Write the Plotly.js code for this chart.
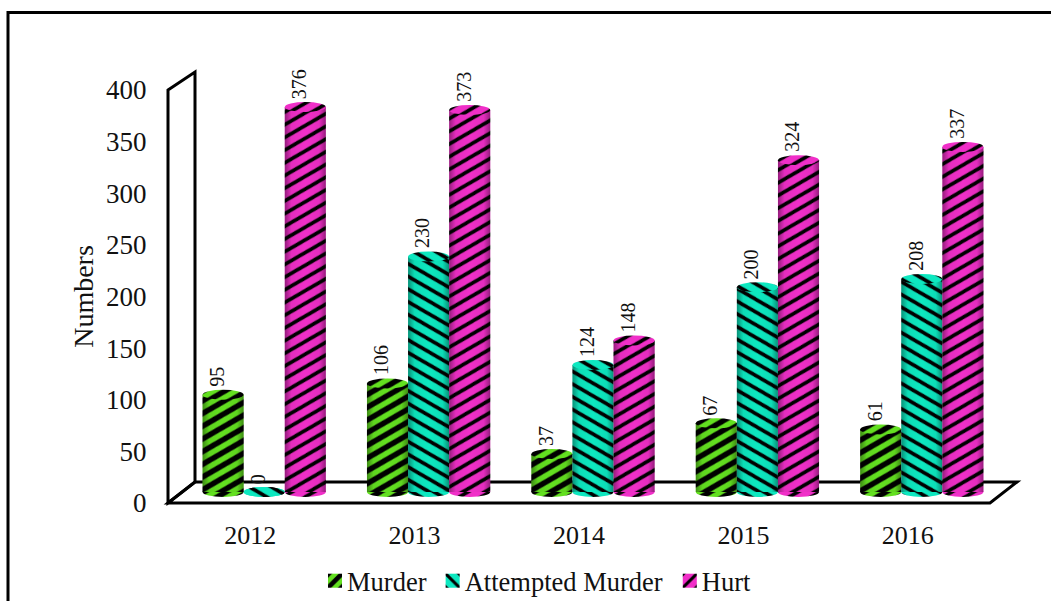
<!DOCTYPE html>
<html><head><meta charset="utf-8">
<script src="https://cdn.plot.ly/plotly-3.0.1.min.js"></script>
<style>html,body{margin:0;padding:0;background:#fff;overflow:hidden}</style>
</head><body><div id="chart" style="width:1051px;height:601px"></div>
<script>
const years = ['2012','2013','2014','2015','2016'];
const murder = [95,106,37,67,61];
const attempted = [0,230,124,200,208];
const hurt = [376,373,148,324,337];
const seriesNames = ['Murder','Attempted Murder','Hurt'];
const seriesColors = ['#63e020','#0de8c0','#f02fc8'];
const seriesStripes = ['/','\\','/'];
const stripeSolidity = [0.5,0.33,0.33];
const stripeAngle = [15,-15,15];
const seriesValues = [murder,attempted,hurt];
const yTicks = [0,50,100,150,200,250,300,350,400];
const legendShift = [-2,-9,-15];

const W=1051,H=601;
const fx=p=>p/W, fy=p=>1-p/H;
const FONT='"Liberation Serif","Times New Roman",serif';

const traces = seriesNames.map((n,k)=>({
  type:'bar', name:n, x:years, y:seriesValues[k], xaxis:'x2', yaxis:'y2',
  hoverinfo:'x+y+name', cliponaxis:false,
  marker:{color:seriesColors[k],line:{width:0},
    pattern:{shape:seriesStripes[k],fgcolor:'#000',fgopacity:1,bgcolor:seriesColors[k],size:11,solidity:stripeSolidity[k],fillmode:'overlay'}}
}));
traces.push({type:'scatter',mode:'none',x:[],y:[],xaxis:'x',yaxis:'y',showlegend:false,hoverinfo:'skip'});

const shapes=[], capMap=[], shadeIdx=[], annotations=[];
const off=[-0.25,0,0.25];
seriesNames.forEach((n,k)=>{
  seriesValues[k].forEach((v,i)=>{
    const xa=i+off[k];
    capMap[shapes.length]=k;
    shapes.push({type:'circle',layer:'below',xref:'x2',yref:'y2',xsizemode:'pixel',ysizemode:'pixel',
      xanchor:xa,yanchor:0,x0:-20.5,x1:20.5,y0:-5,y1:5,fillcolor:seriesColors[k],line:{width:0}});
    if(v>0){
      shadeIdx.push(shapes.length);
      shapes.push({type:'rect',layer:'above',xref:'x2',yref:'y2',xsizemode:'pixel',
        xanchor:xa,x0:-20.5,x1:20.5,y0:0,y1:v,fillcolor:'rgba(0,0,0,0.1)',line:{width:0}});
    }
    capMap[shapes.length]=k;
    shapes.push({type:'circle',layer:'above',xref:'x2',yref:'y2',xsizemode:'pixel',ysizemode:'pixel',
      xanchor:xa,yanchor:v,x0:-20.5,x1:20.5,y0:-5,y1:5,fillcolor:seriesColors[k],line:{width:0}});
    annotations.push({xref:'x2',yref:'y2',x:xa,y:v,yshift:7,xshift:-6,text:String(v),textangle:-90,showarrow:false,
      yanchor:'bottom',xanchor:'center',borderpad:0,font:{family:FONT,size:20,color:'#111'}});
  });
});

const P=(pts)=>'M'+pts.map(p=>fx(p[0])+','+fy(p[1])).join('L')+'Z';
const frame={xref:'paper',yref:'paper',layer:'below',line:{color:'#000',width:3},fillcolor:'rgba(0,0,0,0)',type:'path'};
shapes.push(Object.assign({},frame,{path:P([[168,90],[195,72],[195,482],[168,503]])}));
shapes.push(Object.assign({},frame,{path:P([[168,503],[195,482],[1017,482],[990,503]])}));
shapes.push({type:'rect',xref:'paper',yref:'paper',x0:fx(8),x1:fx(1070),y0:fy(12.5),y1:fy(640),layer:'below',line:{color:'#000',width:3},fillcolor:'rgba(0,0,0,0)'});

const layout={
  width:W,height:H,margin:{l:0,r:0,t:0,b:0,autoexpand:false},paper_bgcolor:'#fff',plot_bgcolor:'rgba(0,0,0,0)',
  barmode:'group',bargap:0.25,bargroupgap:0,
  font:{family:FONT,size:26,color:'#111'},
  xaxis:{domain:[fx(168),fx(990)],range:[-0.5,4.5],tickmode:'array',tickvals:[0,1,2,3,4],ticktext:years,
    ticks:'outside',ticklen:9,tickcolor:'rgba(0,0,0,0)',showgrid:false,zeroline:false,showline:false,anchor:'y',fixedrange:true},
  yaxis:{domain:[fy(503),fy(90)],range:[0,400],tickmode:'array',tickvals:yTicks,tickfont:{family:FONT,size:27,color:'#111'},
    ticks:'outside',ticklen:15,tickcolor:'rgba(0,0,0,0)',showgrid:false,zeroline:false,showline:false,anchor:'x',fixedrange:true,
    title:{text:'Numbers',font:{family:FONT,size:28,color:'#111'},standoff:4}},
  xaxis2:{domain:[fx(182),fx(1004)],type:'category',categoryorder:'array',categoryarray:years,range:[-0.5,4.5],visible:false,anchor:'y2',fixedrange:true},
  yaxis2:{domain:[fy(502.2),fy(82.4)],range:[-10,400],visible:false,anchor:'x2',fixedrange:true},
  shapes,annotations,
  showlegend:true,
  legend:{orientation:'h',x:fx(540),xanchor:'center',y:fy(583),yanchor:'middle',bgcolor:'rgba(0,0,0,0)',
    font:{family:FONT,size:26.5,color:'#111'},traceorder:'normal',itemclick:false,itemdoubleclick:false}
};
Plotly.newPlot('chart',traces,layout,{displayModeBar:false}).then(gd=>{
  const svg=gd.querySelector('svg.main-svg');
  const defs=svg.querySelector('defs');
  const NS='http://www.w3.org/2000/svg';
  const grad=document.createElementNS(NS,'linearGradient');
  grad.setAttribute('id','cylShade');grad.setAttribute('x1','0');grad.setAttribute('x2','1');grad.setAttribute('y1','0');grad.setAttribute('y2','0');
  [[0,0.38],[0.16,0.05],[0.5,0],[0.84,0.05],[1,0.38]].forEach(s=>{
    const st=document.createElementNS(NS,'stop');st.setAttribute('offset',s[0]);st.setAttribute('stop-color','#000');st.setAttribute('stop-opacity',s[1]);grad.appendChild(st);
  });
  defs.appendChild(grad);
  const barFill=[];
  gd.querySelectorAll('.barlayer .trace').forEach((t,k)=>{
    const p=t.querySelector('.point path');
    const f=p&&p.style.fill; barFill[k]=f;
    const m=f&&f.match(/#([^"')]+)/);
    if(m){const pat=document.getElementById(m[1]);
      if(pat) pat.setAttribute('patternTransform','rotate('+stripeAngle[k]+')');}
  });
  gd.querySelectorAll('.shapelayer path').forEach(el=>{
    const i=+el.getAttribute('data-index');
    if(isNaN(i)||i>=shapes.length) return;
    if(shadeIdx.includes(i)){el.style.fill='url(#cylShade)';el.style.fillOpacity=1;}
    else if(capMap[i]!==undefined && barFill[capMap[i]]){el.style.fill=barFill[capMap[i]];}
  });
  gd.querySelectorAll('.legend .traces').forEach((g,k)=>{
    const m=(g.getAttribute('transform')||'').match(/translate\(([-\d.]+)[ ,]+([-\d.]+)\)/);
    if(m) g.setAttribute('transform','translate('+(+m[1]+legendShift[k])+','+(+m[2]-2)+')');
    g.querySelectorAll('.legendpoints path').forEach(p=>p.setAttribute('transform','translate(28,0) scale(1.17)'));
  });
});
</script></body></html>
